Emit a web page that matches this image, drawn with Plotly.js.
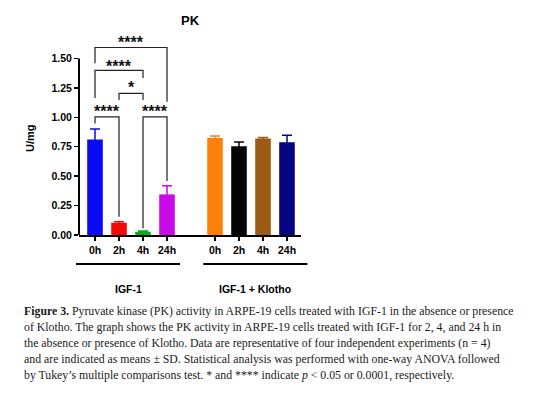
<!DOCTYPE html>
<html>
<head>
<meta charset="utf-8">
<script src="https://cdn.plot.ly/plotly-3.0.1.min.js"></script>
<style>html,body{margin:0;padding:0;background:#fff;}#chart{width:544px;height:397px;}</style>
</head>
<body>
<div id="chart"></div>
<script>
// ---- data ----
const timeLabels = ['0h', '2h', '4h', '24h', '0h', '2h', '4h', '24h'];
const groupNames = ['IGF-1', 'IGF-1 + Klotho'];
const groupOf = [0, 0, 0, 0, 1, 1, 1, 1];
const meanUmg = [0.812, 0.104, 0.028, 0.345, 0.825, 0.754, 0.819, 0.788];
const sdUmg = [0.088, 0.008, 0.006, 0.073, 0.015, 0.036, 0.009, 0.059];
const yTickVals = [0, 0.25, 0.5, 0.75, 1.0, 1.25, 1.5];
// significance comparisons: [bar a, bar b, label]
const comparisons = [
  [0, 1, '****'],
  [2, 3, '****'],
  [1, 2, '*'],
  [0, 2, '****'],
  [0, 3, '****']
];
const captionLines = [
  '<b>Figure 3.</b> Pyruvate kinase (PK) activity in ARPE-19 cells treated with IGF-1 in the absence or presence',
  'of Klotho. The graph shows the PK activity in ARPE-19 cells treated with IGF-1 for 2, 4, and 24 h in',
  'the absence or presence of Klotho. Data are representative of four independent experiments (n = 4)',
  'and are indicated as means ± SD. Statistical analysis was performed with one-way ANOVA followed',
  'by Tukey’s multiple comparisons test. * and **** indicate <i>p</i> &lt; 0.05 or 0.0001, respectively.'
];

// ---- styling ----
const barColors = ['#0a0af5', '#f50a0a', '#0aaa1e', '#c80ae6', '#ff800a', '#050505', '#9c5a14', '#050582'];
const FONT = 'Liberation Sans, Arial, sans-serif';
const SERIF = 'Liberation Serif, Times New Roman, serif';
// bracket geometry (y level, left leg end, right leg end, label y)
const bracketGeom = [
  [1.004, 0.948, 0.156, 1.076],
  [1.004, 0.057, 0.458, 1.076],
  [1.203, 1.146, 1.146, 1.279],
  [1.398, 1.163, 1.333, 1.458],
  [1.593, 1.458, 1.132, 1.664]
];

const slot = i => groupOf[i] === 0 ? i : i + 1; // one empty slot between groups
const xRange = [-0.667, 8.583];
const yRange = [0, 1.75];
const W = 544, H = 397, M = {l: 79, r: 243, t: 29, b: 162};
const plotH = H - M.t - M.b, plotW = W - M.l - M.r;
const pxToPaperY = py => (H - M.b - py) / plotH;
const pxToPaperX = px => (px - M.l) / plotW;
const dataToPaperX = x => (x - xRange[0]) / (xRange[1] - xRange[0]);

const traces = meanUmg.map((v, i) => ({
  type: 'bar',
  x: [slot(i)],
  y: [v],
  width: 0.65,
  marker: {color: barColors[i], line: {width: 0}},
  error_y: {type: 'data', array: [sdUmg[i]], symmetric: true, color: barColors[i], thickness: 1.5, width: 5},
  showlegend: false,
  hoverinfo: 'y'
}));

const shapes = [];
const annotations = [];
// y axis line only up to 1.50
shapes.push({type: 'line', xref: 'paper', yref: 'y', x0: 0, x1: 0, y0: 0, y1: 1.5, line: {color: '#000', width: 2}});

// significance brackets
comparisons.forEach((c, k) => {
  const [a, b, lab] = c;
  const [lev, endA, endB, ty] = bracketGeom[k];
  const xa = slot(a), xb = slot(b);
  shapes.push({type: 'path', xref: 'x', yref: 'y',
    path: `M${xa},${endA} L${xa},${lev} L${xb},${lev} L${xb},${endB}`,
    line: {color: '#222', width: 1.2}});
  annotations.push({xref: 'x', yref: 'y', x: (xa + xb) / 2, y: ty, text: lab, showarrow: false,
    xanchor: 'center', yanchor: 'middle', yshift: -3,
    font: {family: FONT, size: 16, color: '#111', weight: 'bold'}});
});

// group lines and labels
const groupSpans = [[slot(0) - 0.79, slot(3) + 0.54], [slot(4) - 0.49, slot(7) + 0.85]];
groupSpans.forEach((s, g) => {
  shapes.push({type: 'line', xref: 'paper', yref: 'paper',
    x0: dataToPaperX(s[0]), x1: dataToPaperX(s[1]), y0: pxToPaperY(264), y1: pxToPaperY(264),
    line: {color: '#000', width: 2}});
  annotations.push({xref: 'paper', yref: 'paper', x: dataToPaperX((s[0] + s[1]) / 2), y: pxToPaperY(289),
    text: groupNames[g], showarrow: false, xanchor: 'center', yanchor: 'middle',
    font: {family: FONT, size: 10.5, color: '#000', weight: 'bold'}});
});

// y axis title
annotations.push({xref: 'paper', yref: 'paper', x: pxToPaperX(30), y: pxToPaperY(138), text: 'U/mg',
  textangle: -90, showarrow: false, xanchor: 'center', yanchor: 'middle',
  font: {family: FONT, size: 11, color: '#000', weight: 'bold'}});

// caption
captionLines.forEach((t, k) => {
  annotations.push({xref: 'paper', yref: 'paper', x: pxToPaperX(22), y: pxToPaperY(311 + 16 * k), text: t,
    showarrow: false, xanchor: 'left', yanchor: 'middle',
    font: {family: SERIF, size: 11.8, color: '#1a1a1a'}});
});

const layout = {
  width: W, height: H,
  margin: {l: M.l, r: M.r, t: M.t, b: M.b, pad: 0},
  paper_bgcolor: '#fff', plot_bgcolor: '#fff',
  barmode: 'overlay',
  title: {text: 'PK', x: 0.5, xref: 'paper', xanchor: 'center', y: 1 - 20.5 / H, yref: 'container', yanchor: 'middle',
    font: {family: FONT, size: 13, color: '#000', weight: 'bold'}},
  xaxis: {range: xRange, tickmode: 'array', tickvals: timeLabels.map((_, i) => slot(i)), ticktext: timeLabels,
    ticks: 'outside', ticklen: 4, tickwidth: 1.5, tickcolor: '#000',
    showline: true, linewidth: 2, linecolor: '#000', showgrid: false, zeroline: false,
    tickfont: {family: FONT, size: 10.5, color: '#000', weight: 'bold'}},
  yaxis: {range: yRange, tickmode: 'array', tickvals: yTickVals, tickformat: '.2f',
    ticks: 'outside', ticklen: 4, tickwidth: 1.5, tickcolor: '#000',
    showline: false, showgrid: false, zeroline: false,
    tickfont: {family: FONT, size: 10.5, color: '#000', weight: 'bold'}},
  shapes: shapes,
  annotations: annotations
};

Plotly.newPlot('chart', traces, layout, {displayModeBar: false, staticPlot: true});
</script>
</body>
</html>
